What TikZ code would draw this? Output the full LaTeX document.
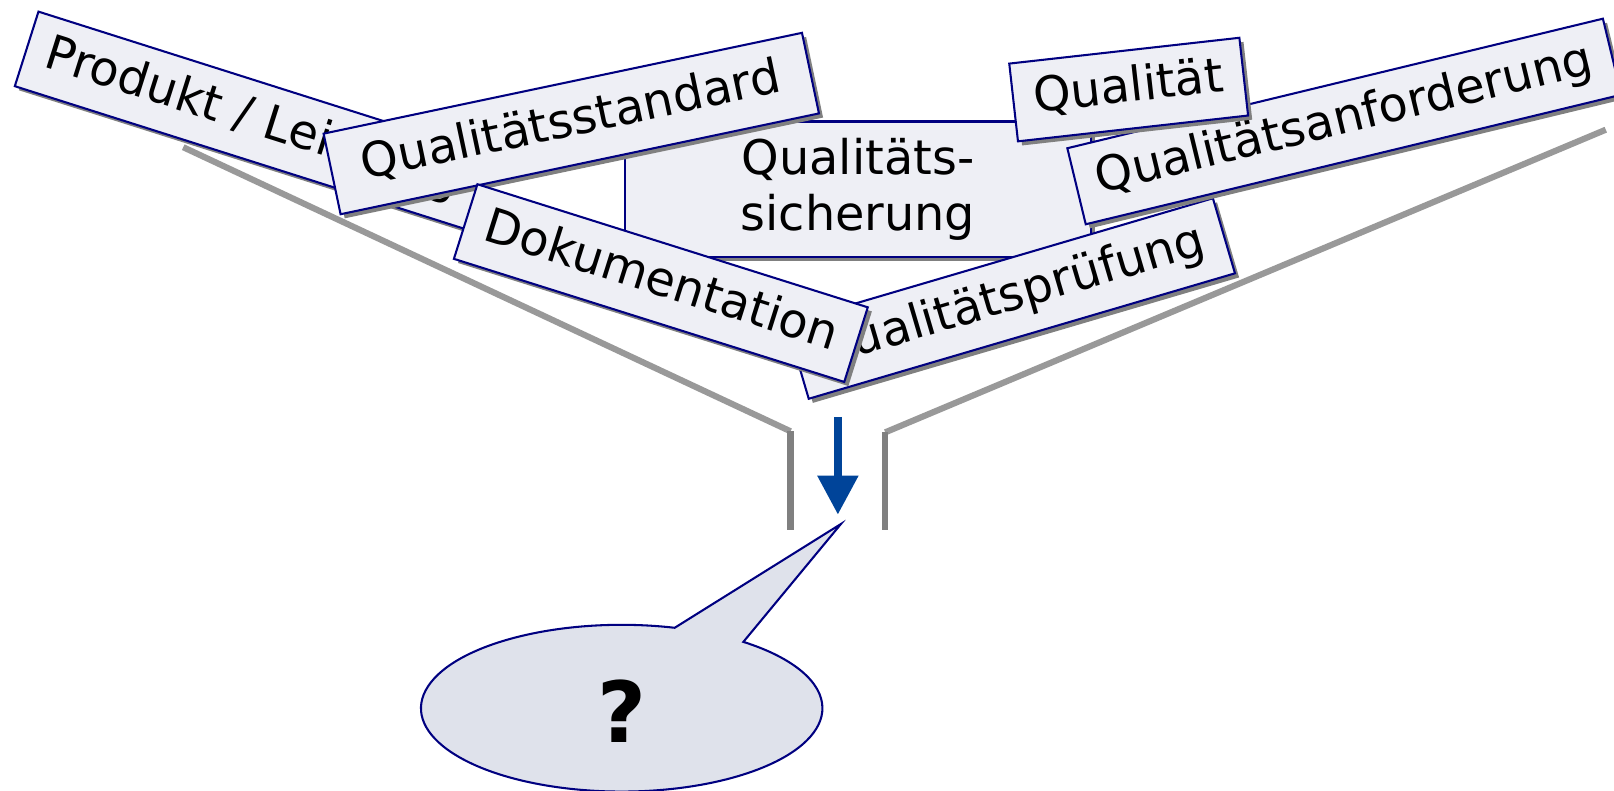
\documentclass[tikz,border=0pt]{standalone}
\usepackage{fontspec}
\setmainfont{DejaVu Sans}
\usetikzlibrary{shapes.callouts,shadows,arrows.meta}

\newlength{\du}
\setlength{\du}{0.5pt}

\definecolor{boxfill}{RGB}{238,239,245}
\definecolor{boxline}{RGB}{0,0,128}
\definecolor{calloutfill}{RGB}{223,226,235}
\definecolor{funnelgray}{RGB}{153,153,153}
\definecolor{pipegray}{RGB}{128,128,128}
\definecolor{arrowblue}{RGB}{0,68,153}

\begin{document}
\begin{tikzpicture}[x=\du,y=-\du,
  termbox/.style={draw=boxline,fill=boxfill,line width=1pt,
    drop shadow={shadow xshift=2pt,shadow yshift=-2pt,fill=pipegray,opacity=1},
    font=\fontsize{23.2pt}{27.6pt}\selectfont},
  labelbox/.style={termbox,inner xsep=10pt,inner ysep=7.4pt,
    text height=17.6pt,text depth=5.6pt},
  funnel/.style={funnelgray,line width=3pt},
  pipe/.style={pipegray,line width=3pt},
  flow/.style={arrowblue,line width=4pt,-{Triangle[width=19pt,length=19pt]}},
  speech/.style={ellipse callout,draw=boxline,fill=calloutfill,line width=1pt,
    minimum width=390\du,minimum height=162\du,inner sep=0pt,
    text height=33pt,text depth=0pt,
    callout pointer arc=22,font=\bfseries\fontsize{41pt}{48pt}\selectfont}]
\useasboundingbox (0,0) rectangle (1568,768);

% funnel
\coordinate (fl0) at (178,143);
\coordinate (fl1) at (768,419);
\coordinate (fl2) at (768,515);
\coordinate (fr0) at (1560,126);
\coordinate (fr1) at (860,420);
\coordinate (fr2) at (860,515);
\draw[funnel] (fl0)--(fl1);
\draw[funnel] (fr0)--(fr1);
\draw[pipe] (fl1)--(fl2);
\draw[pipe] (fr1)--(fr2);

% terms
\node[labelbox,rotate=-17.6] (produkt) at (245,117){Produkt / Leistung};
\node[termbox,minimum width=453\du,minimum height=132\du,align=center] (sicherung) at (833.5,184){Qualitäts-\\sicherung};
\node[labelbox,inner xsep=15pt,inner ysep=8.4pt,rotate=11.9] (standard) at (555,120){Qualitätsstandard};
\node[labelbox,rotate=16.4] (pruefung) at (982,290){Qualitätsprüfung};
\node[labelbox,rotate=-17.5] (doku) at (642,275){Dokumentation};
\node[labelbox,rotate=13.6] (anforderung) at (1306,118){Qualitätsanforderung};
\node[labelbox,rotate=6.4] (qualitaet) at (1096.5,87){Qualität};

% arrow and callout
\coordinate (a0) at (814,405);
\coordinate (a1) at (814,500);
\draw[flow] (a0)--(a1);
\coordinate (qtip) at (817,509);
\node[speech,callout absolute pointer={(qtip)}] (frage) at (604,688){?};
\end{tikzpicture}
\end{document}
